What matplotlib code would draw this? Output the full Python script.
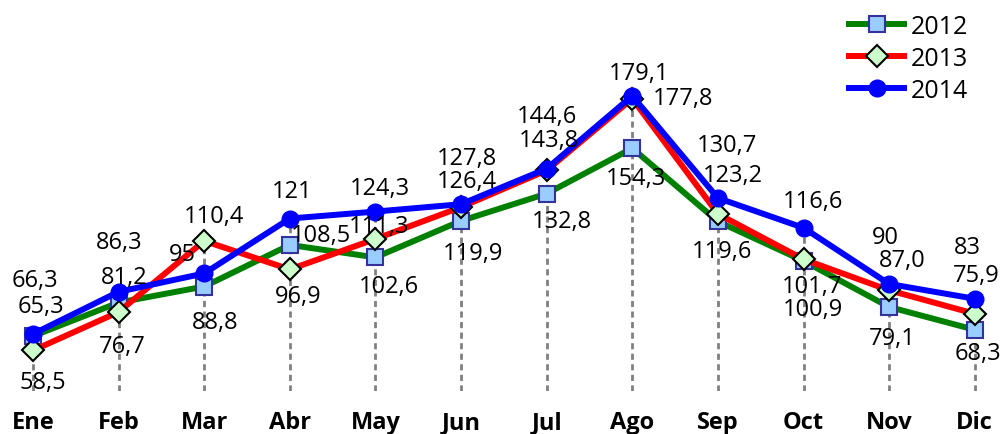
import numpy as np
import matplotlib
matplotlib.use("Agg")
import matplotlib.pyplot as plt

plt.rcParams["font.family"] = ["Open Sans", "DejaVu Sans"]

# Monthly values per year
months = ["Ene", "Feb", "Mar", "Abr", "May", "Jun", "Jul", "Ago", "Sep", "Oct", "Nov", "Dic"]
v2012 = [65.3, 81.2, 88.8, 108.5, 102.6, 119.9, 132.8, 154.3, 119.6, 100.9, 79.1, 68.3]
v2013 = [58.5, 76.7, 110.4, 96.9, 111.3, 126.4, 143.8, 177.8, 123.2, 101.7, 87.0, 75.9]
v2014 = [66.3, 86.3, 95, 121, 124.3, 127.8, 144.6, 179.1, 130.7, 116.6, 90, 83]

lab2012 = ["65,3", "81,2", "88,8", "108,5", "102,6", "119,9", "132,8", "154,3", "119,6", "100,9", "79,1", "68,3"]
lab2013 = ["58,5", "76,7", "110,4", "96,9", "111,3", "126,4", "143,8", "177,8", "123,2", "101,7", "87,0", "75,9"]
lab2014 = ["66,3", "86,3", "95", "121", "124,3", "127,8", "144,6", "179,1", "130,7", "116,6", "90", "83"]

# label offsets in pixels (dx, dy), dy positive = up
off2012 = [(8, 30), (6, 26), (11, -35), (31, 10), (13, -29), (12, -32), (15, -27), (4, -30), (4, -30), (9, -48), (3, -31), (3, -23)]
off2013 = [(10, -32), (4, -34), (10, 25), (8, -27), (4, 13), (6, 26), (2, 30), (51, 1), (15, 39), (9, -27), (13, 30), (2, 39)]
off2014 = [(2, 54), (1, 50), (-22, 19), (2, 28), (4, 24), (6, 46), (0, 53), (7, 23), (9, 53), (9, 27), (-4, 47), (-7, 52)]

x = np.arange(len(months))

fig = plt.figure(figsize=(10.03, 4.35), dpi=100)
ax = fig.add_axes([0, 43 / 435, 1, 392 / 435])

# drop lines from the highest point of each month
top = np.maximum(np.maximum(v2012, v2013), v2014)
ax.vlines(x, 39.3, top, colors="#808080", linestyles=(0, (2.2, 1.6)), linewidth=2, zorder=1)

ax.plot(x, v2012, color="#008000", linewidth=4.3, marker="s", markersize=11.5,
        markerfacecolor="#99CCFF", markeredgecolor="#333399", markeredgewidth=1.5, label="2012", zorder=2)
ax.plot(x, v2013, color="#FF0000", linewidth=4.3, marker="D", markersize=11,
        markerfacecolor="#CCFFCC", markeredgecolor="black", markeredgewidth=1.5, label="2013", zorder=3)
ax.plot(x, v2014, color="#0000FF", linewidth=4.3, marker="o", markersize=12,
        markerfacecolor="#0000FF", markeredgecolor="#0000FF", label="2014", zorder=4)

for vals, labs, offs in [(v2012, lab2012, off2012), (v2013, lab2013, off2013), (v2014, lab2014, off2014)]:
    for i, (v, t, o) in enumerate(zip(vals, labs, offs)):
        ax.annotate(t, (x[i], v), xytext=o, textcoords="offset pixels",
                    ha="center", va="center", fontsize=17, zorder=5)

ax.set_xlim(-0.385, 11.33)
ax.set_ylim(39.3, 225)
ax.set_xticks(x)
ax.set_xticklabels(months, fontsize=17, fontweight="bold")
ax.tick_params(axis="x", length=0, pad=14)
ax.set_yticks([])
for s in ax.spines.values():
    s.set_visible(False)

fig.legend(loc="upper right", bbox_to_anchor=(968 / 1003, 1 - 15 / 435), frameon=False,
           fontsize=18, handlelength=2.2, handletextpad=0.25, labelspacing=0.28,
           borderaxespad=0, borderpad=0)

fig.savefig("out.png", dpi=100)
